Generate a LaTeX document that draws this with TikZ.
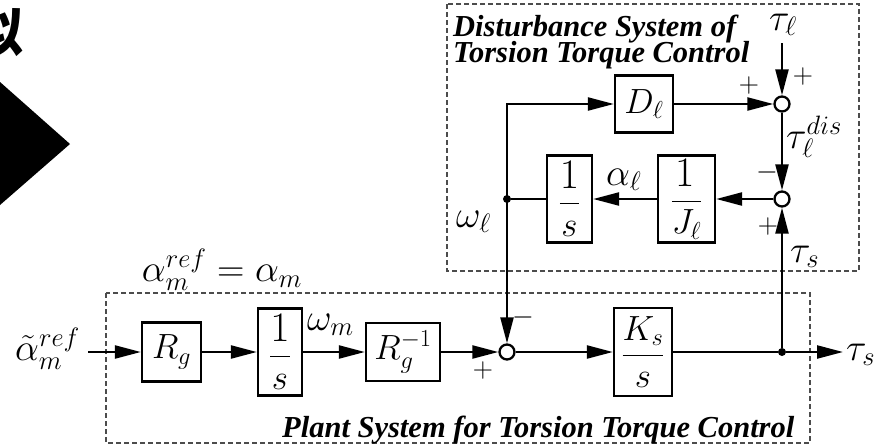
\RequirePackage{fix-cm}
\documentclass[tikz,border=0pt]{standalone}
\usepackage{amsmath}
\usepackage{graphicx}
\usepackage[no-math]{fontspec}
\setmainfont{Liberation Serif}
\newfontfamily\cjkfont{Noto Sans CJK JP}
\usetikzlibrary{arrows.meta}
\begin{document}
\begin{tikzpicture}[x=1pt,y=-1pt,
  blk/.style={draw, line width=2.3pt, inner sep=0pt, fill=white, font=\fontsize{35}{40}\selectfont},
  sumc/.style={circle, draw, line width=2.3pt, fill=white, minimum size=15pt, inner sep=0pt},
  dotc/.style={circle, fill, minimum size=8pt, inner sep=0pt},
  wire/.style={line width=2.3pt},
  arr/.style={wire, -{Triangle[length=26pt,width=13pt]}},
  lbl/.style={inner sep=0pt, font=\fontsize{38}{44}\selectfont},
  sgn/.style={inner sep=0pt, font=\fontsize{28}{28}\selectfont},
  dbox/.style={draw=black!70, line width=1.2pt, dash pattern=on 5pt off 3pt},
  ttl/.style={inner sep=0pt, anchor=base west, font=\fontsize{30.5}{26}\selectfont\bfseries\itshape}
]
\path[use as bounding box, clip] (0,0) rectangle (887,445);
% left-edge remnants
\fill (0,82) -- (70,144) -- (0,205) -- cycle;
\node[anchor=base east, inner sep=0pt, font=\cjkfont\bfseries\fontsize{53}{53}\selectfont] (kanji) at (24,51) {似};
% dashed frames
\draw[dbox] (447,4) rectangle (859,271);
\draw[dbox] (106,293) rectangle (810,443);
% titles
\node[ttl] (t1) at (453,36) {Disturbance System of};
\node[ttl] (t2) at (453,62) {Torsion Torque Control};
\node[ttl] (t3) at (282,437) {Plant System for Torsion Torque Control};
% main row
\coordinate (in) at (88,352);
\node[blk, minimum width=59pt, minimum height=59pt] (rg) at (171.5,352) {$R_g$};
\node[blk, minimum width=44pt, minimum height=87pt] (s1) at (280,352) {$\dfrac{\scalebox{1.2}{$1$}}{s}$};
\node[blk, minimum width=74pt, minimum height=58pt] (rgi) at (403,352) {$R_g^{-1}$};
\node[sumc] (sum1) at (507,352) {};
\node[blk, minimum width=58pt, minimum height=88pt] (ks) at (643,352) {$\dfrac{K_s}{s}$};
\node[dotc] (d1) at (782,352) {};
\coordinate (out) at (843,352);
% disturbance part
\coordinate (tl) at (782,43);
\node[sumc] (sum2) at (782,104) {};
\node[sumc] (sum3) at (782,199) {};
\node[blk, minimum width=58pt, minimum height=57pt] (dl) at (644,104) {$D_\ell$};
\node[blk, minimum width=57pt, minimum height=87pt] (jl) at (686.5,199) {$\dfrac{\scalebox{1.2}{$1$}}{J_\ell}$};
\node[blk, minimum width=45pt, minimum height=87pt] (s2) at (569.5,199) {$\dfrac{\scalebox{1.2}{$1$}}{s}$};
\node[dotc] (d2) at (507,199) {};
% connectors
\draw[arr] (in) -- (rg);
\draw[arr] (rg) -- (s1);
\draw[arr] (s1) -- (rgi);
\draw[arr] (rgi) -- (sum1);
\draw[arr] (sum1) -- (ks);
\draw[wire] (ks) -- (d1);
\draw[arr] (d1) -- (out);
\draw[arr] (d1) -- (sum3);
\draw[arr] (tl) -- (sum2);
\draw[arr] (sum2) -- (sum3);
\draw[arr] (sum3) -- (jl);
\draw[arr] (jl) -- (s2);
\draw[wire] (s2) -- (d2);
\draw[wire, {Triangle[length=26pt,width=13pt]}-{Triangle[length=26pt,width=13pt]}] (dl) -| (sum1);
\draw[arr] (dl) -- (sum2);
% labels
\node[lbl, anchor=base west] (lin) at (15,360) {$\tilde{\alpha}_m^{ref}$};
\node[lbl] (leq) at (222,270) {$\alpha_m^{ref}=\alpha_m$};
\node[lbl, anchor=base west] (lwm) at (307,330) {$\omega_m$};
\node[lbl, anchor=base west] (lout) at (846,360) {$\tau_s$};
\node[lbl, anchor=base west] (lwl) at (456,227) {$\omega_\ell$};
\node[lbl, anchor=base west] (lal) at (606,185) {$\alpha_\ell$};
\node[lbl, anchor=base west] (ltl) at (769,30) {$\tau_\ell$};
\node[lbl, anchor=base west] (ltd) at (786,148) {$\tau_\ell^{dis}$};
\node[lbl, anchor=base west] (lts) at (790,262) {$\tau_s$};
% signs
\node[sgn] (p1) at (749,85) {$+$};
\node[sgn] (p2) at (803,76) {$+$};
\node[sgn] (m1) at (767,172) {$-$};
\node[sgn] (p3) at (768,226) {$+$};
\node[sgn] (m2) at (523,317) {$-$};
\node[sgn] (p4) at (483,370) {$+$};
\end{tikzpicture}
\end{document}
